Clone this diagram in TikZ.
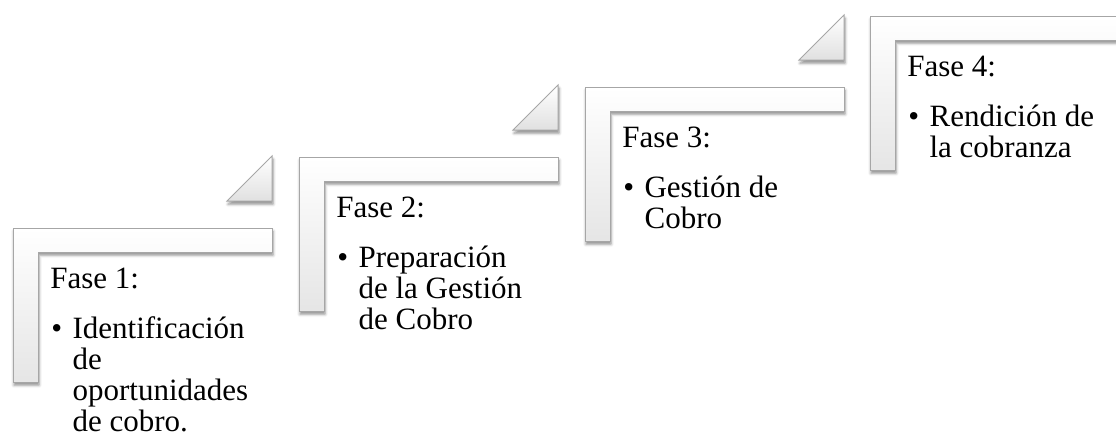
\documentclass[tikz,border=0pt]{standalone}
\usepackage{fontspec}
\setmainfont{Liberation Serif}
\usepackage{xcolor}
\usepackage{tikz}
\usetikzlibrary{positioning, shadows.blur}
\tikzset{
    stepshape/.style={
        draw=black!35,
        line width=0.5pt,
        top color=white,
        bottom color=black!10,
        blur shadow={shadow xshift=0.5pt, shadow yshift=-1.6pt, shadow blur radius=1.4pt, shadow opacity=45}
    },
    stepcorner/.style={
        draw=black!35,
        line width=0.5pt,
        top color=white,
        bottom color=black!12,
        blur shadow={shadow xshift=0.5pt, shadow yshift=-1.6pt, shadow blur radius=1.4pt, shadow opacity=45}
    },
    phasetitle/.style={
        anchor=base west,
        inner sep=0pt,
        font=\fontsize{15.5}{15.5}\selectfont
    },
    phaseitem/.style={
        anchor=base west,
        inner sep=0pt,
        font=\fontsize{15.5}{15.5}\selectfont
    }
}

\begin{document}
\begin{tikzpicture}[x=0.5pt, y=-0.5pt]

\useasboundingbox (0,0) rectangle (1116,436);

% Phase 1
\begin{scope}[shift={(13,228)}]
\path[stepcorner] (214,-27) -- (259,-72) -- (259,-27) -- cycle;
\path[stepshape] (0,0) -- (259,0) -- (259,24) -- (25,24) -- (25,154) -- (0,154) -- cycle;
\node[phasetitle] (fase1) at (37,60) {Fase 1:};
\node[phaseitem] (item1) at (38,110) {\begin{tabular}[t]{@{}p{10.6pt}@{}l@{}}
\textbullet & Identificación\\
 & de\\
 & oportunidades\\
 & de cobro.
\end{tabular}};
\end{scope}

% Phase 2
\begin{scope}[shift={(299,157)}]
\path[stepcorner] (214,-27) -- (259,-72) -- (259,-27) -- cycle;
\path[stepshape] (0,0) -- (259,0) -- (259,24) -- (25,24) -- (25,154) -- (0,154) -- cycle;
\node[phasetitle] (fase2) at (37,60) {Fase 2:};
\node[phaseitem] (item2) at (38,110) {\begin{tabular}[t]{@{}p{10.6pt}@{}l@{}}
\textbullet & Preparación\\
 & de la Gestión\\
 & de Cobro
\end{tabular}};
\end{scope}

% Phase 3
\begin{scope}[shift={(585,87)}]
\path[stepcorner] (214,-27) -- (259,-72) -- (259,-27) -- cycle;
\path[stepshape] (0,0) -- (259,0) -- (259,24) -- (25,24) -- (25,154) -- (0,154) -- cycle;
\node[phasetitle] (fase3) at (37,60) {Fase 3:};
\node[phaseitem] (item3) at (38,110) {\begin{tabular}[t]{@{}p{10.6pt}@{}l@{}}
\textbullet & Gestión de\\
 & Cobro
\end{tabular}};
\end{scope}

% Phase 4
\begin{scope}[shift={(870,16)}]
\path[stepshape] (0,0) -- (259,0) -- (259,24) -- (25,24) -- (25,154) -- (0,154) -- cycle;
\node[phasetitle] (fase4) at (37,60) {Fase 4:};
\node[phaseitem] (item4) at (38,110) {\begin{tabular}[t]{@{}p{10.6pt}@{}l@{}}
\textbullet & Rendición de\\
 & la cobranza
\end{tabular}};
\end{scope}

\end{tikzpicture}
\end{document}
